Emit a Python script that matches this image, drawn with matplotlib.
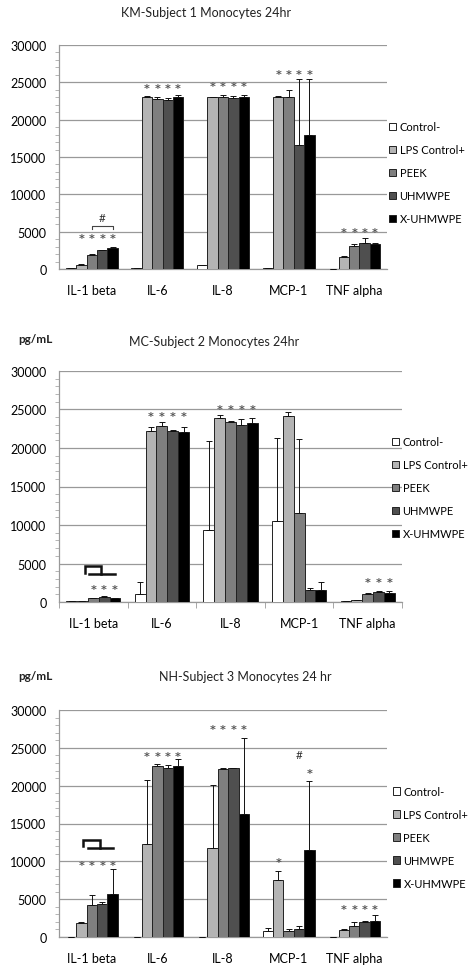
import matplotlib
matplotlib.use("Agg")
import matplotlib.pyplot as plt
import numpy as np
from matplotlib.ticker import MultipleLocator, FixedLocator

plt.rcParams['font.family'] = ['Lato', 'DejaVu Sans']

categories = ["IL-1 beta", "IL-6", "IL-8", "MCP-1", "TNF alpha"]
series = ["Control-", "LPS Control+", "PEEK", "UHMWPE", "X-UHMWPE"]
colors = ["#ffffff", "#b4b4b4", "#7f7f7f", "#4f4f4f", "#000000"]

titles = ["KM-Subject 1 Monocytes 24hr", "MC-Subject 2 Monocytes 24hr",
          "NH-Subject 3 Monocytes 24 hr"]

# means[series][category]
s1_means = [[100, 100, 500, 150, 50],
            [600, 23100, 23000, 23100, 1650],
            [1900, 22800, 23000, 23100, 3100],
            [2500, 22600, 22900, 16600, 3500],
            [2800, 23100, 23000, 18000, 3400]]
s1_err = [[0, 0, 0, 0, 0],
          [50, 100, 100, 100, 100],
          [100, 200, 300, 900, 300],
          [100, 300, 250, 8900, 650],
          [100, 250, 350, 7500, 100]]

s2_means = [[80, 1000, 9400, 10500, 80],
            [80, 22200, 23900, 24100, 200],
            [500, 22900, 23400, 11600, 1000],
            [700, 22200, 23000, 1500, 1300],
            [500, 22100, 23300, 1600, 1200]]
s2_err = [[0, 1600, 11500, 10800, 0],
          [0, 500, 450, 600, 50],
          [50, 500, 100, 9600, 200],
          [100, 100, 800, 300, 100],
          [50, 650, 600, 1000, 200]]

s3_means = [[50, 50, 50, 800, 50],
            [1850, 12300, 11800, 7500, 950],
            [4200, 22600, 22200, 800, 1500],
            [4300, 22300, 22300, 1100, 2000],
            [5700, 22600, 16300, 11500, 2100]]
s3_err = [[0, 0, 0, 400, 0],
          [100, 8400, 8300, 1200, 50],
          [1300, 300, 200, 200, 450],
          [300, 400, 100, 300, 100],
          [3300, 900, 10000, 9100, 800]]

# significance marks: (category, series, y, text)
s1_marks = [(0, s, 4100, "*") for s in (1, 2, 3, 4)] + \
           [(1, s, 24300, "*") for s in (1, 2, 3, 4)] + \
           [(2, s, 24450, "*") for s in (1, 2, 3, 4)] + \
           [(3, s, 26100, "*") for s in (1, 2, 3, 4)] + \
           [(4, s, 4900, "*") for s in (1, 2, 3, 4)] + \
           [(0, 3, 6900, "#")]
s2_marks = [(0, s, 1750, "*") for s in (2, 3, 4)] + \
           [(1, s, 24150, "*") for s in (1, 2, 3, 4)] + \
           [(2, s, 25100, "*") for s in (1, 2, 3, 4)] + \
           [(4, s, 2550, "*") for s in (2, 3, 4)]
s3_marks = [(0, s, 9450, "*") for s in (1, 2, 3, 4)] + \
           [(1, s, 23950, "*") for s in (1, 2, 3, 4)] + \
           [(2, s, 27450, "*") for s in (1, 2, 3, 4)] + \
           [(3, 1, 9970, "*"), (3, 4, 21650, "*"), (3, 3, 24150, "#")] + \
           [(4, s, 3650, "*") for s in (1, 2, 3, 4)]

panels = [
    dict(means=s1_means, err=s1_err, marks=s1_marks, title=titles[0],
         rect=(59, 46, 387, 270), title_xy=(206, 13), unit=False,
         legend=(1.006, 0.43), xticks=False),
    dict(means=s2_means, err=s2_err, marks=s2_marks, title=titles[1],
         rect=(59, 372, 402, 603), title_xy=(214, 342), unit=(35, 340),
         legend=(0.971, 0.494), xticks=True),
    dict(means=s3_means, err=s3_err, marks=s3_marks, title=titles[2],
         rect=(59, 711, 387, 938), title_xy=(245, 677), unit=(35, 677),
         legend=(1.018, 0.438), xticks=False),
]

W, H = 470, 970
fig = plt.figure(figsize=(W / 100, H / 100), dpi=100)

nser = len(series)
bw = 0.158
offsets = (np.arange(nser) - (nser - 1) / 2) * bw
x = np.arange(len(categories))
FS = 9

for pi, p in enumerate(panels):
    l, t, r, b = p["rect"]
    ax = fig.add_axes([l / W, 1 - b / H, (r - l) / W, (b - t) / H])
    for si in range(nser):
        ax.bar(x + offsets[si], p["means"][si], width=bw, color=colors[si],
               edgecolor="#222222", linewidth=0.7, label=series[si], zorder=3)
        ax.errorbar(x + offsets[si], p["means"][si],
                    yerr=[np.zeros(len(categories)), p["err"][si]],
                    fmt="none", ecolor="#111111", elinewidth=0.7,
                    capsize=2.2, capthick=0.7, zorder=4)
    for (ci, si, yv, txt) in p["marks"]:
        if txt == "*":
            ax.text(x[ci] + offsets[si], yv, txt, ha="center", va="center",
                    fontsize=8, color="#555555", zorder=5,
                    family="DejaVu Sans", fontweight="bold")
        else:
            ax.text(x[ci] + offsets[si], yv, txt, ha="center", va="center",
                    fontsize=8.5, color="#333333", zorder=5)
    ax.set_xlim(-0.5, len(categories) - 0.5)
    ax.set_ylim(0, 30000)
    ax.yaxis.set_major_locator(MultipleLocator(5000))
    ax.yaxis.set_minor_locator(MultipleLocator(1000))
    ax.grid(axis="y", which="major", color="#999999", linewidth=0.9, zorder=0)
    ax.set_axisbelow(True)
    ax.set_xticks(x)
    ax.set_xticklabels(categories)
    ax.tick_params(axis="x", which="major", length=0, pad=11, labelsize=FS)
    if p["xticks"]:
        ax.xaxis.set_minor_locator(FixedLocator(np.arange(len(categories) + 1) - 0.5))
        ax.tick_params(axis="x", which="minor", length=4, color="#999999")
    ax.tick_params(axis="y", which="major", length=0, pad=9, labelsize=FS)
    ax.tick_params(axis="y", which="minor", length=3, color="#aaaaaa", direction="out")
    for s in ("top", "right"):
        ax.spines[s].set_visible(False)
    for s in ("left", "bottom"):
        ax.spines[s].set_color("#999999")
        ax.spines[s].set_linewidth(0.9)
    ax.legend(loc="center left", bbox_to_anchor=p["legend"], frameon=False,
              fontsize=8, handlelength=0.65, handleheight=0.65,
              handletextpad=0.3, labelspacing=1.08, borderaxespad=0,
              borderpad=0)
    tx, ty = p["title_xy"]
    fig.text(tx / W, 1 - ty / H, p["title"], ha="center", va="center",
             fontsize=9, color="#222222")
    if p["unit"]:
        ux, uy = p["unit"]
        fig.text(ux / W, 1 - uy / H, "pg/mL", ha="center", va="center",
                 fontsize=8.5, fontweight="bold", color="#222222")
    # brackets
    if pi == 0:
        xs = [x[0] + offsets[2], x[0] + offsets[2], x[0] + offsets[4], x[0] + offsets[4]]
        ax.plot(xs, [5400, 5800, 5800, 5400], color="#444444", lw=0.8, zorder=5)
    else:
        top_y = 4700 if pi == 1 else 12870
        low_y = 3600 if pi == 1 else 11810
        lft_y = 3800 if pi == 1 else 11990
        x0 = x[0] + offsets[1] + 0.03
        x1 = x[0] + offsets[3] - 0.04
        ax.plot([x0, x0, x1, x1], [lft_y, top_y, top_y, low_y],
                color="#111111", lw=1.8, zorder=5, solid_joinstyle="miter")
        ax.plot([x[0] + offsets[2] - 0.06, x[0] + offsets[4] + 0.0], [low_y, low_y],
                color="#111111", lw=1.8, zorder=5)

fig.savefig("out.png", dpi=100)
